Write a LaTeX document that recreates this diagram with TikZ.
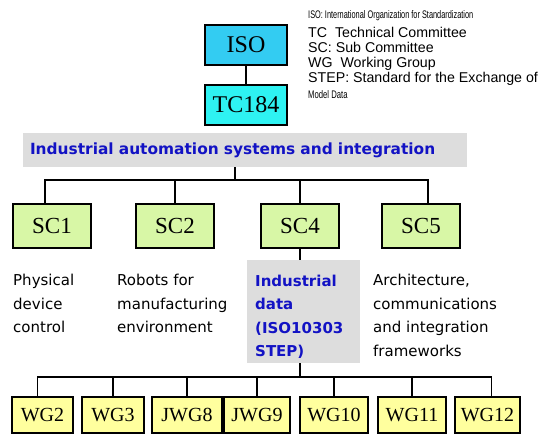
\documentclass[tikz,border=0pt]{standalone}
\usepackage{fontspec}
\setmainfont{Liberation Serif}
\setsansfont{DejaVu Sans}
\newfontfamily\legendfont{Liberation Sans}
\usetikzlibrary{positioning}
\definecolor{IsoBlue}{HTML}{33CCF2}
\definecolor{TcCyan}{HTML}{2EF2F2}
\definecolor{ScGreen}{HTML}{D8F7A6}
\definecolor{WgYellow}{HTML}{FFFF9E}
\definecolor{BandGray}{HTML}{DDDDDD}
\definecolor{TitleBlue}{HTML}{1212C4}

\begin{document}
\begin{tikzpicture}[x=1pt, y=-1pt, every node/.style={inner sep=0pt}]
        \tikzstyle{org}=[draw=black, line width=1.5pt, font=\fontsize{24}{24}\selectfont]
        \tikzstyle{sc}=[draw=black, line width=1.5pt, fill=ScGreen, minimum width=78pt, minimum height=44pt, font=\fontsize{23}{23}\selectfont]
        \tikzstyle{wg}=[draw=black, line width=1.5pt, fill=WgYellow, minimum height=36pt, font=\fontsize{20}{20}\selectfont]
        \tikzstyle{scope}=[anchor=north west, align=left, font=\sffamily\fontsize{15}{23.5}\selectfont]
        \tikzstyle{legend}=[anchor=base west, font=\legendfont\fontsize{14.2}{14.2}\selectfont]
        \tikzstyle{link}=[line width=1.5pt]
        \useasboundingbox (0,0) rectangle (545,433);
        % committees
        \node[org, fill=IsoBlue, minimum width=82pt, minimum height=40pt] (iso) at (246,45) {ISO};
        \node[org, fill=TcCyan, minimum width=82pt, minimum height=40pt] (tc) at (246,105) {TC184};
        \draw[link] (iso) -- (tc);
        % legend
        \node[legend] (leg1) at (308,19) {\fontsize{11}{11}\selectfont\scalebox{0.67}[1]{ISO: International Organization for Standardization}};
        \node[legend] (leg2) at (308,38) {TC\ \ Technical Committee};
        \node[legend] (leg3) at (308,53) {SC: Sub Committee};
        \node[legend] (leg4) at (308,68) {WG\ \ Working Group};
        \node[legend] (leg5) at (308,83) {STEP: Standard for the Exchange of};
        \node[legend] (leg6) at (308,99) {\fontsize{11}{11}\selectfont\scalebox{0.7}[1]{Model Data}};
        % scope band
        \node[fill=BandGray, minimum width=444pt, minimum height=34pt, text width=430pt, inner xsep=7pt, align=left,
              font=\sffamily\bfseries\fontsize{15.4}{15.4}\selectfont, text=TitleBlue] (band) at (245,150)
              {Industrial automation systems and integration};
        \coordinate (scbus) at (235,180);
        % sub committees
        \node[sc] (sc1) at (52,226) {SC1};
        \node[sc] (sc2) at (175,226) {SC2};
        \node[sc] (sc4) at (300,226) {SC4};
        \node[sc] (sc5) at (421,226) {SC5};
        \draw[link] ([xshift=-10pt]band.south) -- (scbus);
        \draw[link] ([xshift=-7pt]sc1.north) |- ([xshift=7pt]sc5.north |- scbus) -- ([xshift=7pt]sc5.north);
        \draw[link] (sc2.north) -- (sc2.north |- scbus);
        \draw[link] (sc4.north) -- (sc4.north |- scbus);
        % working groups
        \coordinate (wgbus) at (300,377);
        \node[wg, minimum width=61pt] (wg2) at (42.5,415) {WG2};
        \node[wg, minimum width=62pt] (wg3) at (113,415) {WG3};
        \node[wg, minimum width=70pt] (jwg8) at (187,415) {JWG8};
        \node[wg, minimum width=66pt] (jwg9) at (257,415) {JWG9};
        \node[wg, minimum width=68pt] (wg10) at (334,415) {WG10};
        \node[wg, minimum width=68pt] (wg11) at (412,415) {WG11};
        \node[wg, minimum width=65pt] (wg12) at (487.5,415) {WG12};
        \draw[link] (sc4.south) -- (wgbus);
        \draw[link] ([xshift=-5pt]wg2.north) |- ([xshift=4pt]wg12.north |- wgbus) -- ([xshift=4pt]wg12.north);
        \draw[link] (wg3.north) -- (wg3.north |- wgbus);
        \draw[link] (jwg8.north) -- (jwg8.north |- wgbus);
        \draw[link] (jwg9.north) -- (jwg9.north |- wgbus);
        \draw[link] (wg10.north) -- (wg10.north |- wgbus);
        \draw[link] (wg11.north) -- (wg11.north |- wgbus);
        % scopes
        \node[scope] (phys) at (13,274) {Physical\\device\\control};
        \node[scope] (robot) at (117,274) {Robots for\\manufacturing\\environment};
        \node[fill=BandGray, anchor=north west, minimum width=113pt, minimum height=103pt, text width=97pt, inner xsep=8pt,
              align=left, font=\sffamily\bfseries\fontsize{15}{23.5}\selectfont, text=TitleBlue] (data) at (247,260)
              {\rule{0pt}{22pt}Industrial\\data\\(ISO10303\\STEP)};
        \node[scope] (arch) at (373,274) {Architecture,\\communications\\and integration\\frameworks};
      \end{tikzpicture}
\end{document}
